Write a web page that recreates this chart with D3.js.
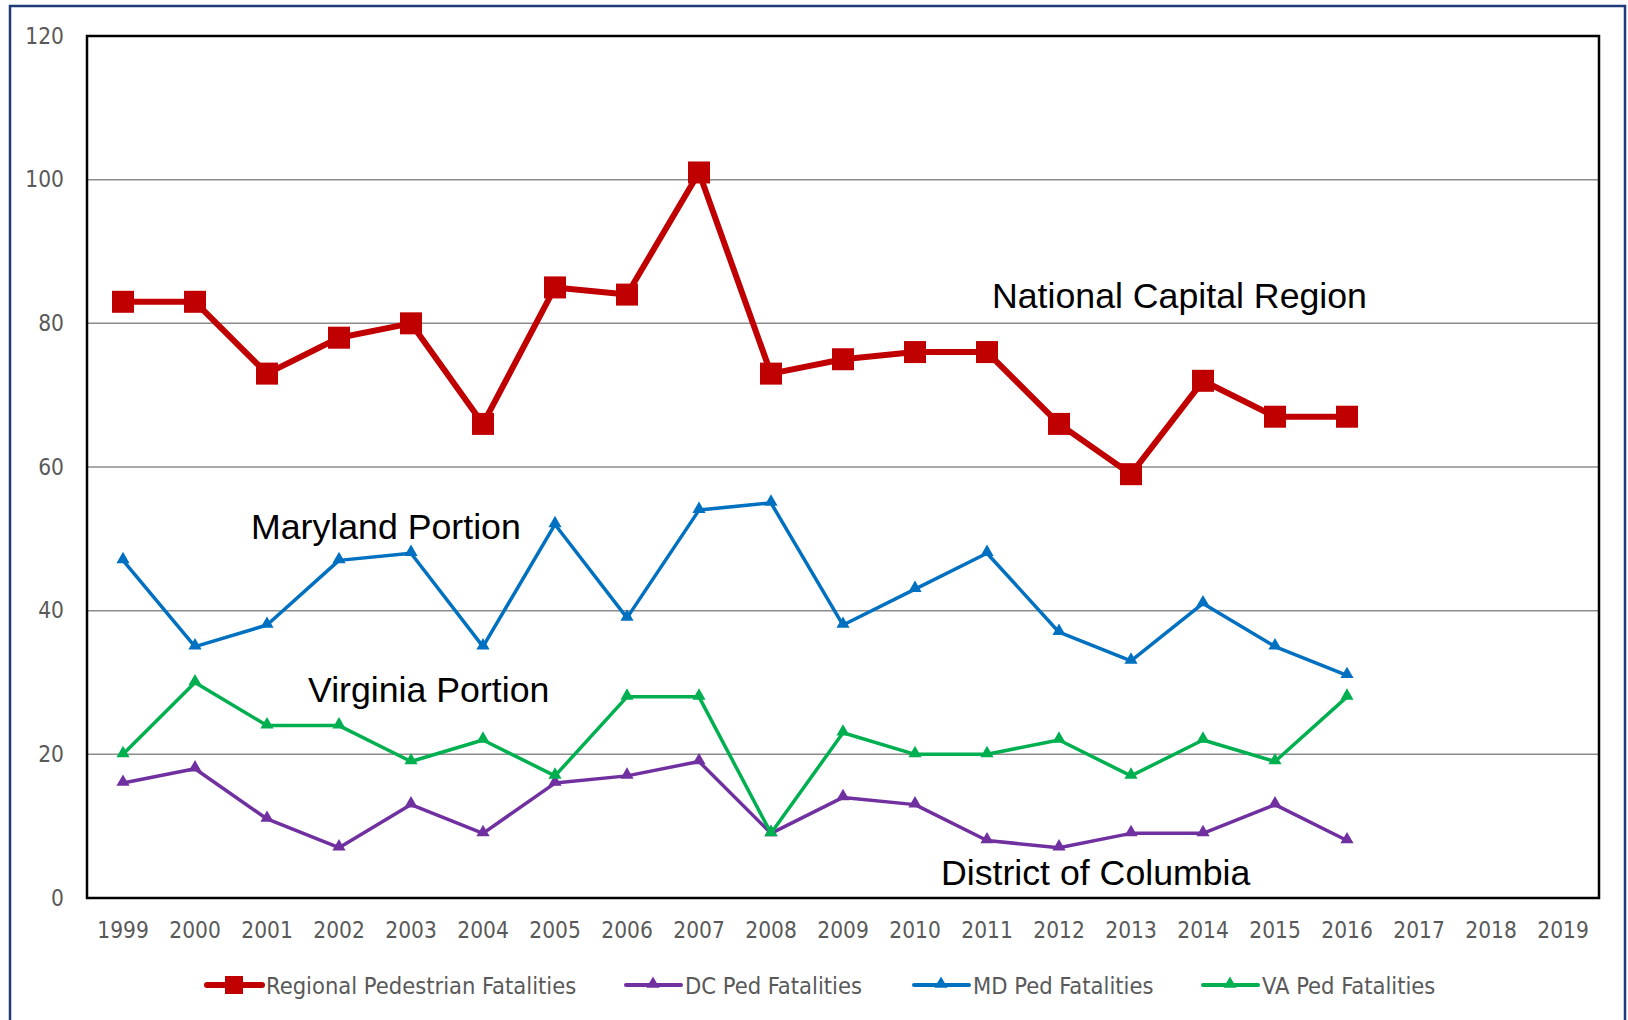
<!DOCTYPE html>
<html>
<head>
<meta charset="utf-8">
<script src="https://cdnjs.cloudflare.com/ajax/libs/d3/7.8.5/d3.min.js"></script>
<style>
  body { margin: 0; background: #fff; }
  .tick-label { font-family: "Liberation Sans Narrow", "DejaVu Sans Condensed", sans-serif; font-size: 22.5px; fill: #595959; }
  .legend-label { font-family: "Liberation Sans Narrow", "DejaVu Sans Condensed", sans-serif; font-size: 23.5px; fill: #595959; }
  .note { font-family: "Liberation Sans", Arial, sans-serif; font-size: 35.7px; fill: #000; }
</style>
</head>
<body>
<div id="chart"></div>
<script>
// Data
var years = ["1999", "2000", "2001", "2002", "2003", "2004", "2005", "2006", "2007", "2008",
  "2009", "2010", "2011", "2012", "2013", "2014", "2015", "2016", "2017", "2018", "2019"];
var yTicks = [0, 20, 40, 60, 80, 100, 120];

var regionalValues = [83, 83, 73, 78, 80, 66, 85, 84, 101, 73, 75, 76, 76, 66, 59, 72, 67, 67];
var dcValues = [16, 18, 11, 7, 13, 9, 16, 17, 19, 9, 14, 13, 8, 7, 9, 9, 13, 8];
var mdValues = [47, 35, 38, 47, 48, 35, 52, 39, 54, 55, 38, 43, 48, 37, 33, 41, 35, 31];
var vaValues = [20, 30, 24, 24, 19, 22, 17, 28, 28, 9, 23, 20, 20, 22, 17, 22, 19, 28];

var seriesNames = ["Regional Pedestrian Fatalities", "DC Ped Fatalities", "MD Ped Fatalities", "VA Ped Fatalities"];
var seriesColors = ["#C00000", "#7030A0", "#0070C0", "#00B050"];

var series = [
  { name: seriesNames[0], values: regionalValues, color: seriesColors[0], marker: "square", width: 6 },
  { name: seriesNames[1], values: dcValues, color: seriesColors[1], marker: "triangle", width: 3.5 },
  { name: seriesNames[2], values: mdValues, color: seriesColors[2], marker: "triangle", width: 3.5 },
  { name: seriesNames[3], values: vaValues, color: seriesColors[3], marker: "triangle", width: 3.5 }
];

var svgWidth = 1628;
var svgHeight = 1020;

var margin = { top: 36, right: 29, bottom: 122, left: 87 };
var width = svgWidth - margin.left - margin.right;
var height = svgHeight - margin.top - margin.bottom;

var svg = d3.select("#chart")
  .append("svg")
  .attr("width", svgWidth)
  .attr("height", svgHeight);

// outer dark blue frame
svg.append("rect")
  .attr("x", 10)
  .attr("y", 6)
  .attr("width", 1615)
  .attr("height", 1030)
  .attr("fill", "none")
  .attr("stroke", "#1F3A78")
  .attr("stroke-width", 2.5);

var chartGroup = svg.append("g")
  .attr("transform", `translate(${margin.left}, ${margin.top})`);

// scales
var xScale = d3.scaleBand()
  .domain(years)
  .range([0, width]);

var yScale = d3.scaleLinear()
  .domain([0, 120])
  .range([height, 0]);

// gridlines
chartGroup.append("g")
  .selectAll("line")
  .data(yTicks.filter(d => d > 0 && d < 120))
  .enter()
  .append("line")
  .attr("x1", 0)
  .attr("x2", width)
  .attr("y1", d => yScale(d))
  .attr("y2", d => yScale(d))
  .attr("stroke", "#8c8c8c")
  .attr("stroke-width", 1.5);

// plot frame
chartGroup.append("rect")
  .attr("x", 0)
  .attr("y", 0)
  .attr("width", width)
  .attr("height", height)
  .attr("fill", "none")
  .attr("stroke", "#000")
  .attr("stroke-width", 2.5);

// y axis labels
var leftAxis = d3.axisLeft(yScale)
  .tickValues(yTicks)
  .tickSize(0)
  .tickPadding(23);

var yAxis = chartGroup.append("g").call(leftAxis);
yAxis.select(".domain").remove();
yAxis.selectAll("text")
  .attr("class", "tick-label")
  .attr("font-family", null)
  .attr("font-size", null);

// x axis labels
var bottomAxis = d3.axisBottom(xScale)
  .tickSize(0)
  .tickPadding(24);

var xAxis = chartGroup.append("g")
  .attr("transform", `translate(0, ${height})`)
  .call(bottomAxis);
xAxis.select(".domain").remove();
xAxis.selectAll("text")
  .attr("class", "tick-label")
  .attr("font-family", null)
  .attr("font-size", null);

var xPos = (d, i) => xScale(years[i]) + xScale.bandwidth() / 2;

var line = d3.line()
  .x((d, i) => xPos(d, i))
  .y(d => yScale(d));

var triangle = d3.symbol().type(d3.symbolTriangle).size(75);

// draw each series
series.forEach(function(s) {
  var g = chartGroup.append("g");

  g.append("path")
    .datum(s.values)
    .attr("d", line)
    .attr("fill", "none")
    .attr("stroke", s.color)
    .attr("stroke-width", s.width)
    .attr("stroke-linejoin", "round");

  if (s.marker === "square") {
    g.selectAll("rect")
      .data(s.values)
      .enter()
      .append("rect")
      .attr("x", (d, i) => xPos(d, i) - 11)
      .attr("y", d => yScale(d) - 11)
      .attr("width", 22)
      .attr("height", 22)
      .attr("fill", s.color);
  }
  else {
    g.selectAll("path.mk")
      .data(s.values)
      .enter()
      .append("path")
      .attr("class", "mk")
      .attr("d", triangle)
      .attr("transform", (d, i) => `translate(${xPos(d, i)}, ${yScale(d) - 1})`)
      .attr("fill", s.color);
  }
});

// region annotations
var notes = [
  { text: "National Capital Region", x: 992, y: 308 },
  { text: "Maryland Portion", x: 251, y: 539 },
  { text: "Virginia Portion", x: 308, y: 702 },
  { text: "District of Columbia", x: 941, y: 885 }
];

svg.selectAll("text.note")
  .data(notes)
  .enter()
  .append("text")
  .attr("class", "note")
  .attr("x", d => d.x)
  .attr("y", d => d.y)
  .text(d => d.text);

// legend
var legendX = [207, 626, 914, 1203];
var legendY = 985;

var legend = svg.append("g");

series.forEach(function(s, i) {
  var item = legend.append("g")
    .attr("transform", `translate(${legendX[i]}, ${legendY})`);

  item.append("line")
    .attr("x1", 0)
    .attr("x2", 55)
    .attr("stroke", s.color)
    .attr("stroke-width", s.marker === "square" ? 6 : 4)
    .attr("stroke-linecap", "round");

  if (s.marker === "square") {
    item.append("rect")
      .attr("x", 18)
      .attr("y", -9)
      .attr("width", 18)
      .attr("height", 18)
      .attr("fill", s.color);
  }
  else {
    item.append("path")
      .attr("d", triangle)
      .attr("transform", "translate(27, -1)")
      .attr("fill", s.color);
  }

  item.append("text")
    .attr("class", "legend-label")
    .attr("x", 59)
    .attr("y", 8.5)
    .text(s.name);
});
</script>
</body>
</html>
